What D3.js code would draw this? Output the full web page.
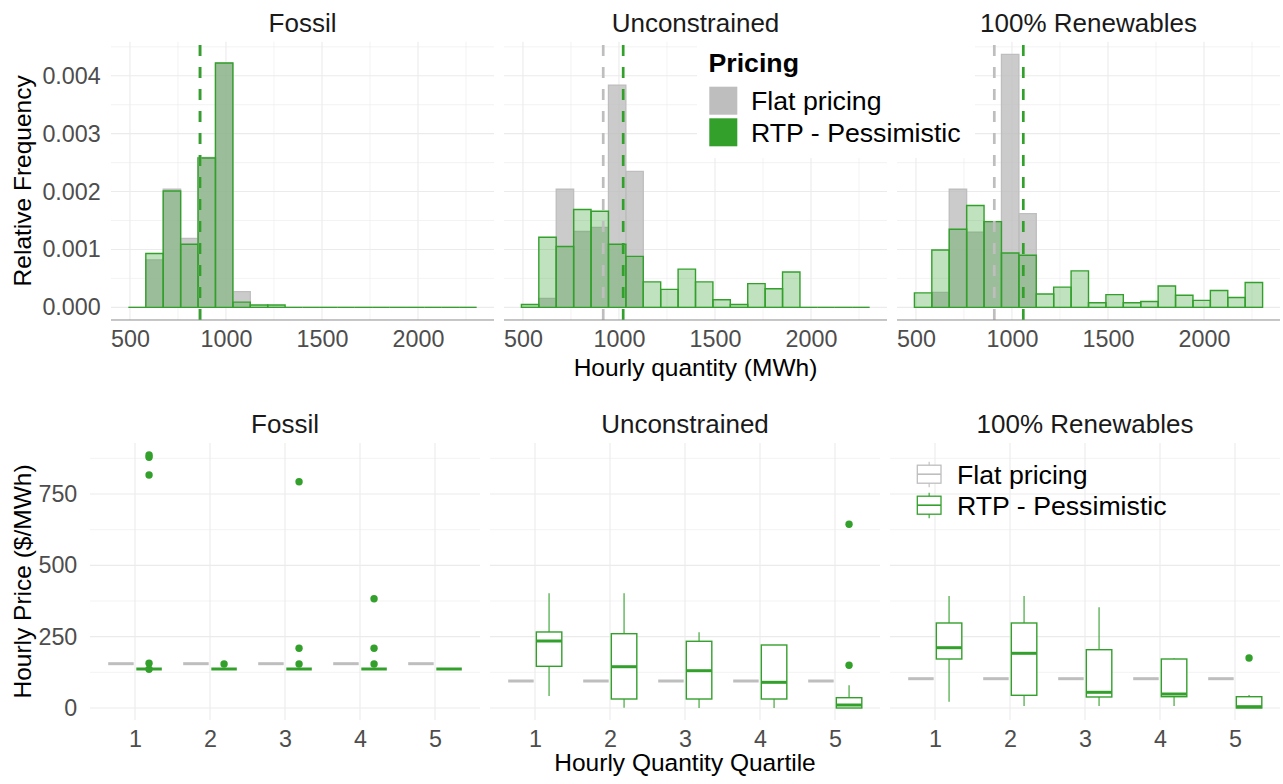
<!DOCTYPE html>
<html>
<head>
<meta charset="utf-8">
<script src="https://cdn.jsdelivr.net/npm/d3@7"></script>
<style>
    body { margin: 0; background: #fff; }
    svg text { font-family: "Liberation Sans", Arial, sans-serif; }
</style>
</head>
<body>
<div id="chart"></div>
<script>
// ---- data ----
const scenarios = ["Fossil", "Unconstrained", "100% Renewables"];
const pricingLabels = ["Flat pricing", "RTP - Pessimistic"];

// histogram bins (MWh)
const binStart = 492;
const binWidth = 90.65;

// relative frequency per bin, 20 bins
const fossilFlat = [0, 0.00082, 0.00204, 0.00119, 0.00259, 0.00422, 0.00027, 0, 0, 0, 0, 0, 0, 0, 0, 0, 0, 0, 0, 0];
const fossilRtp = [0, 0.00093, 0.00201, 0.00109, 0.00258, 0.00422, 0.00009, 0.00004, 0.00004, 0, 0, 0, 0, 0, 0, 0, 0, 0, 0, 0];
const unconFlat = [0, 0.000155, 0.00204, 0.00131, 0.00138, 0.00384, 0.00235, 0, 0, 0, 0, 0, 0, 0, 0, 0, 0, 0, 0, 0];
const unconRtp = [0.00005, 0.00121, 0.00105, 0.00169, 0.00166, 0.00109, 0.00088, 0.00044, 0.00031, 0.00066, 0.00044, 0.00013, 0.00005, 0.00041, 0.00032, 0.00061, 0, 0, 0, 0];
const renewFlat = [0, 0.00026, 0.00204, 0.0013, 0.00148, 0.00437, 0.00162, 0, 0, 0, 0, 0, 0, 0, 0, 0, 0, 0, 0, 0];
const renewRtp = [0.00025, 0.00099, 0.00135, 0.00176, 0.00148, 0.00094, 0.0009, 0.00023, 0.00035, 0.00063, 0.00008, 0.00022, 0.00008, 0.0001, 0.00037, 0.00021, 0.00012, 0.00029, 0.00017, 0.00043];

// mean hourly quantity (dashed lines)
const meanFlat = [865, 918, 908];
const meanRtp = [865, 1022, 1059];

// tick labels
const qtyTicks = [500, 1000, 1500, 2000];
const freqTicks = [0, 0.001, 0.002, 0.003, 0.004];
const quartiles = [1, 2, 3, 4, 5];
const priceTicks = [0, 250, 500, 750];

// flat price per scenario ($/MWh)
const flatPrice = [155.3, 94.6, 102.7];

// RTP boxes: [lower whisker, q1, median, q3, upper whisker] per quartile
const fossilBox = [[136.7, 136.7, 136.7, 136.7, 136.7], [136.7, 136.7, 136.7, 136.7, 136.7], [136.7, 136.7, 136.7, 136.7, 136.7], [136.7, 136.7, 136.7, 136.7, 136.7], [136.7, 136.7, 136.7, 136.7, 136.7]];
const unconBox = [[42, 146.1, 234.8, 266.4, 402], [1, 31.5, 144.7, 260.4, 402], [0, 31.5, 130.7, 233.8, 265.3], [0, 31.5, 90, 220.8, 220.8], [0, 0, 10.5, 36.1, 79.6]];
const renewBox = [[22, 171.7, 211.3, 297.9, 392.5], [7, 44.5, 191.7, 297.9, 392.5], [7, 38.6, 55, 204.3, 353], [7, 39.6, 49, 171.7, 174], [0, 0, 4.6, 39.6, 45.6]];

// outliers per quartile
const fossilOut = [[886.7, 878.5, 816.6, 156.7, 135.6], [154.2], [793, 209.2, 154.2], [383, 209.2, 154.2], []];
const unconOut = [[], [], [], [], [643.8, 149.7]];
const renewOut = [[], [], [], [], [175.2]];

const histFlat = [fossilFlat, unconFlat, renewFlat];
const histRtp = [fossilRtp, unconRtp, renewRtp];
const boxes = [fossilBox, unconBox, renewBox];
const outliers = [fossilOut, unconOut, renewOut];

// ---- styles ----
const grey = "#BEBEBE";
const green = "#33A02C";
const gridCol = "#EBEBEB";
const legendSize = 26.7;

const svg = d3.select("#chart").append("svg")
    .attr("width", 1283)
    .attr("height", 784);

svg.append("rect").attr("width", 1283).attr("height", 784).attr("fill", "#fff");

function grid(g, x, y, w, h, xMajor, xMinor, yMajor, yMinor) {
    g.selectAll(".gxm").data(xMinor).enter().append("line")
        .attr("x1", d => x(d)).attr("x2", d => x(d)).attr("y1", 0).attr("y2", h)
        .attr("stroke", gridCol).attr("stroke-width", 0.6);
    g.selectAll(".gym").data(yMinor).enter().append("line")
        .attr("y1", d => y(d)).attr("y2", d => y(d)).attr("x1", 0).attr("x2", w)
        .attr("stroke", gridCol).attr("stroke-width", 0.6);
    g.selectAll(".gx").data(xMajor).enter().append("line")
        .attr("x1", d => x(d)).attr("x2", d => x(d)).attr("y1", 0).attr("y2", h)
        .attr("stroke", gridCol).attr("stroke-width", 1.1);
    g.selectAll(".gy").data(yMajor).enter().append("line")
        .attr("y1", d => y(d)).attr("y2", d => y(d)).attr("x1", 0).attr("x2", w)
        .attr("stroke", gridCol).attr("stroke-width", 1.1);
}

function styleAxis(sel, size) {
    sel.select(".domain").remove();
    sel.selectAll("text")
        .attr("fill", "#4D4D4D")
        .style("font-size", size + "px");
}

// ---- top row: histograms ----
const topRow = { y0: 41.7, h: 278.3, w: 383, lefts: [111, 504, 897] };

scenarios.forEach((name, i) => {
    let g = svg.append("g").attr("transform", `translate(${topRow.lefts[i]},${topRow.y0})`);

    let x = d3.scaleLinear().domain([401.35, 2395.65]).range([0, topRow.w]);
    let y = d3.scaleLinear().domain([-0.0002185, 0.0045885]).range([topRow.h, 0]);

    grid(g, x, y, topRow.w, topRow.h, qtyTicks, [750, 1250, 1750, 2250], freqTicks, [0.0005, 0.0015, 0.0025, 0.0035, 0.0045]);

    const barPath = (d, k) => {
        let x0 = x(binStart + k * binWidth), x1 = x(binStart + (k + 1) * binWidth);
        return `M${x0},${y(0)}L${x0},${y(d)}L${x1},${y(d)}L${x1},${y(0)}Z`;
    };

    g.selectAll(".bar-flat").data(histFlat[i]).enter().append("path")
        .attr("class", "bar-flat")
        .attr("d", barPath)
        .attr("fill", grey).attr("fill-opacity", 0.8)
        .attr("stroke", grey).attr("stroke-width", 1.3);

    g.selectAll(".bar-rtp").data(histRtp[i]).enter().append("path")
        .attr("class", "bar-rtp")
        .attr("d", barPath)
        .attr("fill", green).attr("fill-opacity", 0.3)
        .attr("stroke", green).attr("stroke-width", 1.4);

    // mean lines
    [[meanFlat[i], grey], [meanRtp[i], green]].forEach(([m, c]) => {
        g.append("line")
            .attr("x1", x(m)).attr("x2", x(m)).attr("y1", topRow.h).attr("y2", 0)
            .attr("stroke", c).attr("stroke-width", 2.7)
            .attr("stroke-dasharray", "11,11");
    });

    // x axis line
    g.append("line").attr("x1", 0).attr("x2", topRow.w).attr("y1", topRow.h).attr("y2", topRow.h)
        .attr("stroke", "#8C8C8C").attr("stroke-width", 1);

    let xa = g.append("g").attr("transform", `translate(0,${topRow.h})`)
        .call(d3.axisBottom(x).tickValues(qtyTicks).tickSize(0).tickPadding(10).tickFormat(d3.format("d")));
    styleAxis(xa, 23.3);

    if (i === 0) {
        let ya = g.append("g")
            .call(d3.axisLeft(y).tickValues(freqTicks).tickSize(0).tickPadding(10.3).tickFormat(d3.format(".3f")));
        styleAxis(ya, 23.3);
    }

    g.append("text")
        .attr("x", topRow.w / 2).attr("y", -10)
        .attr("text-anchor", "middle")
        .attr("fill", "#1A1A1A")
        .style("font-size", "26px")
        .text(name);
});

svg.append("text")
    .attr("transform", `translate(30.7,${topRow.y0 + topRow.h / 2}) rotate(-90)`)
    .attr("text-anchor", "middle")
    .style("font-size", "24.5px")
    .text("Relative Frequency");

svg.append("text")
    .attr("x", (111 + 1280) / 2).attr("y", 376)
    .attr("text-anchor", "middle")
    .style("font-size", "24.5px")
    .text("Hourly quantity (MWh)");

// top legend
let leg = svg.append("g");
leg.append("rect").attr("x", 697).attr("y", 40).attr("width", 278).attr("height", 118).attr("fill", "#fff");
leg.append("text").attr("x", 708.5).attr("y", 71.5)
    .style("font-size", legendSize + "px").style("font-weight", "bold").text("Pricing");
[grey, green].forEach((c, k) => {
    leg.append("rect").attr("x", 709.3).attr("y", 86.7 + k * 31.6).attr("width", 28).attr("height", 28).attr("fill", c);
    leg.append("text").attr("x", 751).attr("y", 110 + k * 31.6)
        .style("font-size", legendSize + "px").text(pricingLabels[k]);
});

// ---- bottom row: box plots ----
const botRow = { y0: 443, h: 277, w: 390, lefts: [90, 490, 890] };
const dodge = 0.1875, boxW = 0.34;

scenarios.forEach((name, i) => {
    let g = svg.append("g").attr("transform", `translate(${botRow.lefts[i]},${botRow.y0})`);

    let x = d3.scaleLinear().domain([0.4, 5.6]).range([0, botRow.w]);
    let y = d3.scaleLinear().domain([-42.06, 928.7]).range([botRow.h, 0]);

    grid(g, x, y, botRow.w, botRow.h, quartiles, [], priceTicks, [125, 375, 625, 875]);

    // flat pricing: collapsed boxes
    g.selectAll(".flat").data(quartiles).enter().append("line")
        .attr("x1", d => x(d - dodge - boxW / 2)).attr("x2", d => x(d - dodge + boxW / 2))
        .attr("y1", y(flatPrice[i])).attr("y2", y(flatPrice[i]))
        .attr("stroke", grey).attr("stroke-width", 3);

    // RTP boxes
    quartiles.forEach((q, k) => {
        let [lw, q1, med, q3, uw] = boxes[i][k];
        let cx = x(q + dodge), x0 = x(q + dodge - boxW / 2), x1 = x(q + dodge + boxW / 2);
        g.append("line").attr("x1", cx).attr("x2", cx).attr("y1", y(q3)).attr("y2", y(uw))
            .attr("stroke", green).attr("stroke-width", 1.1);
        g.append("line").attr("x1", cx).attr("x2", cx).attr("y1", y(q1)).attr("y2", y(lw))
            .attr("stroke", green).attr("stroke-width", 1.1);
        g.append("rect").attr("x", x0).attr("y", y(q3)).attr("width", x1 - x0).attr("height", y(q1) - y(q3))
            .attr("fill", "#fff").attr("stroke", green).attr("stroke-width", 1.4);
        g.append("line").attr("x1", x0).attr("x2", x1).attr("y1", y(med)).attr("y2", y(med))
            .attr("stroke", green).attr("stroke-width", 3);
        g.selectAll(".out" + k).data(outliers[i][k]).enter().append("circle")
            .attr("cx", cx).attr("cy", d => y(d)).attr("r", 3.7)
            .attr("fill", green);
    });

    let xa = g.append("g").attr("transform", `translate(0,${botRow.h})`)
        .call(d3.axisBottom(x).tickValues(quartiles).tickSize(0).tickPadding(10).tickFormat(d3.format("d")));
    styleAxis(xa, 23.3);

    if (i === 0) {
        let ya = g.append("g")
            .call(d3.axisLeft(y).tickValues(priceTicks).tickSize(0).tickPadding(12.7));
        styleAxis(ya, 23.3);
    }

    g.append("text")
        .attr("x", botRow.w / 2).attr("y", -9.7)
        .attr("text-anchor", "middle")
        .attr("fill", "#1A1A1A")
        .style("font-size", "26px")
        .text(name);
});

svg.append("text")
    .attr("transform", `translate(30.7,${botRow.y0 + botRow.h / 2}) rotate(-90)`)
    .attr("text-anchor", "middle")
    .style("font-size", "24.5px")
    .text("Hourly Price ($/MWh)");

svg.append("text")
    .attr("x", (90 + 1280) / 2).attr("y", 771)
    .attr("text-anchor", "middle")
    .style("font-size", "24.5px")
    .text("Hourly Quantity Quartile");

// bottom legend (box glyph keys)
let leg2 = svg.append("g");
[grey, green].forEach((c, k) => {
    let ky = 461.7 + k * 31;
    let kx = 917.3, kw = 23.7;
    leg2.append("line").attr("x1", kx + kw / 2).attr("x2", kx + kw / 2).attr("y1", ky).attr("y2", ky + 25.5)
        .attr("stroke", c).attr("stroke-width", 1.1);
    leg2.append("rect").attr("x", kx).attr("y", ky + 3.5).attr("width", kw).attr("height", 18)
        .attr("fill", "#fff").attr("stroke", c).attr("stroke-width", 1.3);
    leg2.append("line").attr("x1", kx).attr("x2", kx + kw).attr("y1", ky + 12.5).attr("y2", ky + 12.5)
        .attr("stroke", c).attr("stroke-width", 1.6);
    leg2.append("text").attr("x", 957).attr("y", 484.3 + k * 31)
        .style("font-size", legendSize + "px").text(pricingLabels[k]);
});
</script>
</body>
</html>
